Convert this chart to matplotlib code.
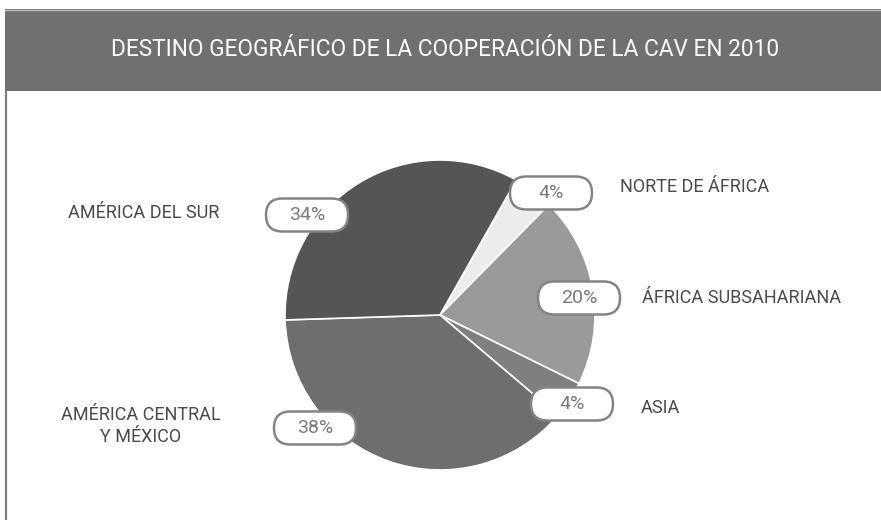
import matplotlib
matplotlib.use("Agg")
import matplotlib.pyplot as plt
from matplotlib.patches import Rectangle, FancyBboxPatch
from matplotlib.lines import Line2D

plt.rcParams['font.family'] = ['Roboto', 'DejaVu Sans']

title = "DESTINO GEOGRÁFICO DE LA COOPERACIÓN DE LA CAV EN 2010"
categories = ["NORTE DE ÁFRICA", "ÁFRICA SUBSAHARIANA", "ASIA",
              "AMÉRICA CENTRAL\nY MÉXICO", "AMÉRICA DEL SUR"]
values = [4.2, 19.9, 3.9, 38.3, 33.7]
pct_labels = ["4%", "20%", "4%", "38%", "34%"]
colors = ["#ececec", "#9a9a9a", "#7f7f7f", "#6e6e6e", "#555553"]

W, H = 881, 520
fig = plt.figure(figsize=(W / 100, H / 100), dpi=100)
ax = fig.add_axes([0, 0, 1, 1])

def py(y):
    return H - y

cx, cy, R = 440, py(315), 155
wedges, _ = ax.pie(values, colors=colors, startangle=60.5, counterclock=False,
                   center=(cx, cy), radius=R,
                   wedgeprops=dict(edgecolor="white", linewidth=1.2))
ax.set_xlim(0, W)
ax.set_ylim(0, H)
ax.set_aspect('equal')
ax.axis('off')

# header band
ax.add_patch(Rectangle((5, py(91)), W - 5, 82, facecolor="#707070", edgecolor="none", zorder=0))
ax.add_line(Line2D([5, W], [py(9.5), py(9.5)], color="#bdbdbd", lw=1))
ax.add_line(Line2D([5.5, 5.5], [py(91), 0], color="#7a7a7a", lw=1.5))
ax.text(445, py(50), title, color="white", fontsize=16.3,
        ha="center", va="center")

# percentage boxes (pixel centres)
box_pos = [(551, 193), (579, 298), (572, 404), (315, 428), (307, 215)]
bw, bh = 82, 33
for (bx, by), lab in zip(box_pos, pct_labels):
    ax.add_patch(FancyBboxPatch((bx - bw / 2, py(by) - bh / 2), bw, bh,
                                boxstyle="round,pad=0,rounding_size=16.5",
                                facecolor="white", edgecolor="#848484", lw=1.8, zorder=5))
    ax.text(bx, py(by), lab, color="#7a7a7a", fontsize=14,
            ha="center", va="center", zorder=6)

# category labels
cat_pos = [(620, 187, "left"), (642, 298, "left"), (641, 408, "left"),
           (141, 426, "center"), (68, 213, "left")]
for (tx, ty, ha), lab in zip(cat_pos, categories):
    ax.text(tx, py(ty), lab, color="#4a4a4a", fontsize=13, ha=ha, va="center",
            multialignment="center", linespacing=1.35)

fig.savefig("out.png", dpi=100)
